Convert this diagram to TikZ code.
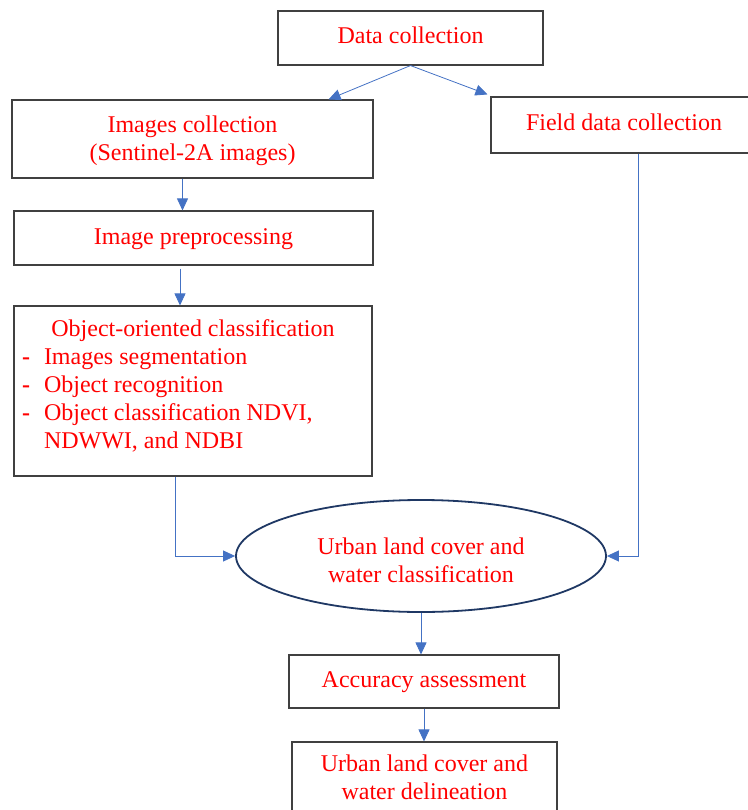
\documentclass[tikz,border=0pt]{standalone}
\usepackage{fontspec}
\setmainfont{Liberation Serif}
\usepackage{tikz}
\usetikzlibrary{shapes.geometric,arrows.meta}

\definecolor{boxline}{HTML}{404040}
\definecolor{arrowblue}{HTML}{4472C4}
\definecolor{ovalline}{HTML}{1F3864}

\tikzset{
	stepbox/.style={draw=boxline, line width=1.1pt, rectangle, align=center, text=red,
		font=\fontsize{24}{28}\selectfont, inner sep=0pt},
	oneline/.style={stepbox, text height=20pt, text depth=8pt},
	oval/.style={draw=ovalline, line width=1.8pt, ellipse, align=center, text=red,
		font=\fontsize{24}{28}\selectfont, inner sep=0pt},
	flow/.style={draw=arrowblue, line width=0.8pt, -{Triangle[length=12pt,width=11pt]}}
}

\begin{document}
\begin{tikzpicture}[x=1pt, y=-1pt]
	\useasboundingbox (0, 0) rectangle (747, 810);
	% Boxes placed at the pixel positions of the scheme.
	\node(datacol) [oneline, minimum width=265pt, minimum height=54pt] at (410.5, 38) {Data collection};
	\node(imgcol) [stepbox, minimum width=361pt, minimum height=78pt] at (192.5, 139) {\raisebox{0pt}[\dimexpr\height+4pt]{\begin{tabular}{@{}c@{}}Images collection\\(Sentinel-2A images)\end{tabular}}};
	\node(fieldcol) [oneline, minimum width=266pt, minimum height=56pt] at (624, 125) {Field data collection};
	\node(imgprep) [oneline, minimum width=359pt, minimum height=54pt] at (193.5, 238) {Image preprocessing};
	\node(ooc) [stepbox, inner xsep=8pt, inner ysep=9pt] at (193, 391) {\parbox[c][152pt][t]{342pt}{\raggedright\vspace*{5pt}
		\makebox[\linewidth]{Object-oriented classification}\\
		\makebox[22pt][l]{\textbf{-}}Images segmentation\\
		\makebox[22pt][l]{\textbf{-}}Object recognition\\
		\makebox[22pt][l]{\textbf{-}}Object classification NDVI,\\
		\hspace*{22pt}NDWWI, and NDBI}};
	\node(urban) [oval, minimum width=370pt, minimum height=112pt] at (421, 556) {\raisebox{0pt}[\dimexpr\height+14pt]{\begin{tabular}{@{}c@{}}Urban land cover and\\water classification\end{tabular}}};
	\node(accuracy) [oneline, minimum width=270pt, minimum height=53pt] at (424, 681.5) {Accuracy assessment};
	\node(delin) [stepbox, minimum width=265pt, minimum height=70pt] at (424.5, 777) {Urban land cover and\\water delineation};
	\draw[flow] (datacol.south) -- ([xshift=-45pt]imgcol.north east);
	\draw[flow] (datacol.south) -- ([xshift=-3pt, yshift=2pt]fieldcol.north west);
	\draw[flow] ([xshift=-10pt]imgcol.south) -- ([xshift=-10pt]imgcol.south |- imgprep.north);
	\draw[flow] ([xshift=-13.5pt, yshift=-3pt]imgprep.south) -- ([xshift=-13.5pt]imgprep.south |- ooc.north);
	\draw[flow] ([xshift=-18pt]ooc.south) |- (urban.west);
	\draw[flow] ([xshift=14pt]fieldcol.south) |- (urban.east);
	\draw[flow] (urban.south) -- (urban.south |- accuracy.north);
	\draw[flow] (accuracy.south) -- (accuracy.south |- delin.north);
\end{tikzpicture}
\end{document}
